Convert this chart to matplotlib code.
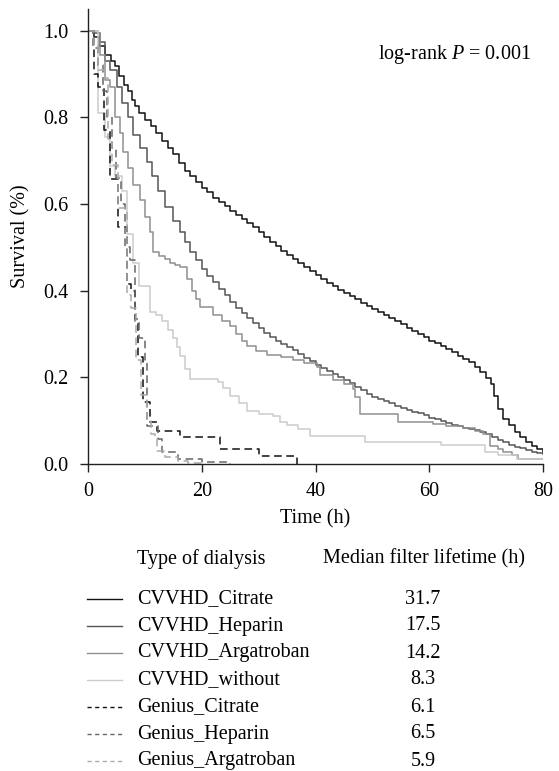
import matplotlib
matplotlib.use('Agg')
import matplotlib.pyplot as plt
from matplotlib.lines import Line2D

plt.rcParams['font.family'] = ['Liberation Serif', 'DejaVu Serif']
plt.rcParams['mathtext.fontset'] = 'custom'
plt.rcParams['mathtext.rm'] = 'Liberation Serif'
plt.rcParams['mathtext.it'] = 'Liberation Serif:italic'

# Kaplan-Meier step curves (time in h, survival fraction)
citrate_t = [0, 1, 2, 3, 4, 4.7, 5.5, 6.3, 7, 7.7, 8.3, 9, 10, 11, 12, 13, 14, 15, 16, 17,
             18, 19, 20, 21, 22, 23, 24, 25, 26, 27, 28, 29, 30, 31, 32, 33, 34, 35, 36, 37,
             38, 39, 40, 41, 42, 43, 44, 45, 46, 47, 48, 49, 50, 51, 52, 53, 54, 55, 56, 57,
             58, 59, 60, 61, 62, 63, 64, 65, 66, 67, 68, 69, 70, 70.8, 71.4, 72, 73, 74, 75,
             76, 77, 78, 79, 80]
citrate_s = [1.0, 0.985, 0.965, 0.945, 0.93, 0.918, 0.895, 0.875, 0.86, 0.84, 0.826, 0.81,
             0.795, 0.78, 0.765, 0.745, 0.73, 0.715, 0.695, 0.676, 0.665, 0.65, 0.638, 0.627,
             0.615, 0.605, 0.595, 0.585, 0.575, 0.565, 0.556, 0.546, 0.535, 0.523, 0.512,
             0.502, 0.492, 0.483, 0.474, 0.465, 0.455, 0.446, 0.436, 0.426, 0.418, 0.41,
             0.402, 0.395, 0.387, 0.38, 0.372, 0.364, 0.357, 0.35, 0.343, 0.336, 0.329,
             0.322, 0.315, 0.308, 0.301, 0.294, 0.285, 0.279, 0.272, 0.265, 0.258, 0.25,
             0.243, 0.235, 0.225, 0.213, 0.198, 0.184, 0.157, 0.127, 0.105, 0.09, 0.075,
             0.062, 0.05, 0.042, 0.034, 0.028]

heparin_t = [0, 0.9, 2.1, 3.0, 3.9, 5.1, 6.0, 7.0, 7.9, 9.1, 10.4, 11.3, 12.3, 13.5, 14.9,
             16.2, 17.1, 18, 19, 20, 21, 22, 23, 24, 25, 26, 27, 28, 29, 30, 31, 32, 33, 34,
             35, 36, 37, 38, 39, 40, 41, 42, 43, 44, 45, 46, 47, 48, 49, 50, 51, 52, 53, 54,
             55, 56, 57, 58, 59, 60, 61, 62, 63, 64, 65, 66, 67, 68, 69, 70, 71, 72, 73, 74,
             75, 76, 77, 78, 79, 80]
heparin_s = [1.0, 0.995, 0.975, 0.929, 0.91, 0.869, 0.834, 0.8, 0.76, 0.73, 0.696, 0.664,
             0.629, 0.594, 0.56, 0.535, 0.512, 0.49, 0.47, 0.45, 0.435, 0.42, 0.405, 0.39,
             0.375, 0.36, 0.348, 0.336, 0.325, 0.313, 0.303, 0.294, 0.285, 0.277, 0.27,
             0.262, 0.254, 0.245, 0.237, 0.229, 0.222, 0.214, 0.207, 0.2, 0.193, 0.186,
             0.178, 0.17, 0.162, 0.155, 0.15, 0.145, 0.14, 0.135, 0.13, 0.125, 0.121, 0.117,
             0.112, 0.107, 0.103, 0.099, 0.095, 0.091, 0.087, 0.084, 0.081, 0.078, 0.074,
             0.069, 0.063, 0.056, 0.05, 0.045, 0.04, 0.036, 0.032, 0.028, 0.025, 0.023]

argatroban_t = [0, 1.8, 2.1, 3.0, 3.9, 4.7, 5.6, 6.2, 7.0, 7.9, 9.1, 10.0, 10.9, 11.4, 12.5,
                13.5, 14.5, 15.3, 16.2, 17.4, 18.3, 19.0, 19.7, 22, 23.5, 25, 26, 27, 28,
                29.5, 31.5, 34, 36, 38, 40.2, 40.8, 43, 45, 46.6, 47, 47.8, 54.5, 60.7, 63,
                66, 68, 69.5, 70.7, 72, 73, 74.5, 75.6, 80]
argatroban_s = [1.0, 0.995, 0.945, 0.887, 0.869, 0.8, 0.765, 0.719, 0.684, 0.645, 0.61,
                0.569, 0.535, 0.49, 0.48, 0.472, 0.465, 0.46, 0.454, 0.426, 0.4, 0.38,
                0.362, 0.345, 0.33, 0.318, 0.3, 0.285, 0.272, 0.26, 0.252, 0.247, 0.24,
                0.232, 0.223, 0.205, 0.195, 0.185, 0.173, 0.155, 0.115, 0.097, 0.092,
                0.088, 0.082, 0.076, 0.069, 0.041, 0.034, 0.027, 0.02, 0.012, 0.012]

without_t = [0, 1.8, 3.0, 3.9, 4.7, 6.0, 6.8, 7.9, 9.0, 10.9, 12, 13, 14, 15, 15.6, 16.2,
             17, 17.9, 22.9, 23.8, 25, 26.5, 28, 30, 32.5, 33.8, 35, 37, 39, 48.7, 62, 69.8,
             72, 75.4, 80]
without_s = [1.0, 0.81, 0.755, 0.687, 0.664, 0.63, 0.53, 0.465, 0.41, 0.35, 0.345, 0.33,
             0.31, 0.29, 0.27, 0.25, 0.22, 0.196, 0.19, 0.175, 0.157, 0.14, 0.122, 0.115,
             0.11, 0.097, 0.09, 0.08, 0.065, 0.05, 0.045, 0.028, 0.02, 0.012, 0.012]

gen_citrate_t = [0, 1.0, 1.8, 2.8, 3.9, 5.3, 6.9, 7.5, 8.2, 8.8, 9.7, 10.9, 12.1, 16.2,
                 23.2, 30, 36.8]
gen_citrate_s = [1.0, 0.9, 0.87, 0.77, 0.657, 0.548, 0.415, 0.4, 0.334, 0.246, 0.143,
                 0.097, 0.076, 0.062, 0.035, 0.018, 0.0]

gen_heparin_t = [0, 0.8, 1.8, 2.6, 3.4, 4.2, 5.0, 5.8, 6.5, 7.3, 8.2, 9.0, 10.0, 10.4,
                 11.8, 12.3, 13, 15.8, 20, 25]
gen_heparin_s = [1.0, 0.96, 0.92, 0.86, 0.8, 0.73, 0.66, 0.6, 0.5, 0.47, 0.327, 0.29, 0.24,
                 0.088, 0.088, 0.058, 0.028, 0.012, 0.005, 0.0]

gen_argatroban_t = [0, 1.0, 1.8, 3.0, 3.6, 4.2, 5.3, 6.9, 7.5, 8.5, 9.3, 10.3, 11.0, 11.8,
                    12.1, 13.5, 15.8, 17.6, 20]
gen_argatroban_s = [1.0, 0.97, 0.91, 0.89, 0.75, 0.69, 0.59, 0.39, 0.36, 0.24, 0.16, 0.1,
                    0.07, 0.058, 0.03, 0.016, 0.007, 0.003, 0.0]

names = ['CVVHD_Citrate', 'CVVHD_Heparin', 'CVVHD_Argatroban', 'CVVHD_without',
         'Genius_Citrate', 'Genius_Heparin', 'Genius_Argatroban']
medians = ['31.7', '17.5', '14.2', '8.3', '6.1', '6.5', '5.9']

curves = [(citrate_t, citrate_s), (heparin_t, heparin_s), (argatroban_t, argatroban_s),
          (without_t, without_s), (gen_citrate_t, gen_citrate_s),
          (gen_heparin_t, gen_heparin_s), (gen_argatroban_t, gen_argatroban_s)]
colors = ['#111111', '#555555', '#8f8f8f', '#cccccc', '#111111', '#666666', '#aaaaaa']
styles = ['-', '-', '-', '-', (0, (5, 3)), (0, (5, 3)), (0, (5, 3))]

FS = 14.5
W, H = 559, 771
fig = plt.figure(figsize=(W / 100, H / 100), dpi=100)
ax = fig.add_axes([88 / W, 1 - 464 / H, (543 - 88) / W, (464 - 9) / H])

for (t, s), c, ls in zip(curves, colors, styles):
    ax.step(t, s, where='post', color=c, linestyle=ls, linewidth=1.1)

ax.set_xlim(0, 80)
ax.set_ylim(0, 1.05)
ax.set_xticks([0, 20, 40, 60, 80])
ax.set_yticks([0.0, 0.2, 0.4, 0.6, 0.8, 1.0])
ax.set_yticklabels(['0.0', '0.2', '0.4', '0.6', '0.8', '1.0'])
ax.spines['top'].set_visible(False)
ax.spines['right'].set_visible(False)
for sp in ['left', 'bottom']:
    ax.spines[sp].set_linewidth(1.0)
    ax.spines[sp].set_color('#222222')
ax.tick_params(direction='out', length=6, width=1.0, labelsize=FS, color='#222222')
ax.tick_params(axis='x', pad=7)
ax.tick_params(axis='y', pad=8)
ax.set_xlabel('Time (h)', fontsize=FS, labelpad=6)
ax.set_ylabel('Survival (%)', fontsize=FS, labelpad=9)
ax.text(0.974, 0.899, 'log-rank $P$ = 0.001', transform=ax.transAxes, ha='right',
        va='center', fontsize=FS)

# table-style legend below the plot
fig.text(137 / W, 1 - 559 / H, 'Type of dialysis', fontsize=FS, va='center')
fig.text(323 / W, 1 - 559 / H, 'Median filter lifetime (h)', fontsize=FS, va='center')
for i, (nm, md) in enumerate(zip(names, medians)):
    y = 1 - (599 + i * 27) / H
    fig.add_artist(Line2D([87 / W, 122 / W], [y, y], color=colors[i],
                          linestyle=(0, (3, 2.5)) if i >= 4 else '-', linewidth=1.0))
    fig.text(137 / W, y, nm, fontsize=FS, va='center')
    fig.text(423 / W, y, md, fontsize=FS, va='center', ha='center')

fig.savefig('out.png', dpi=100)
